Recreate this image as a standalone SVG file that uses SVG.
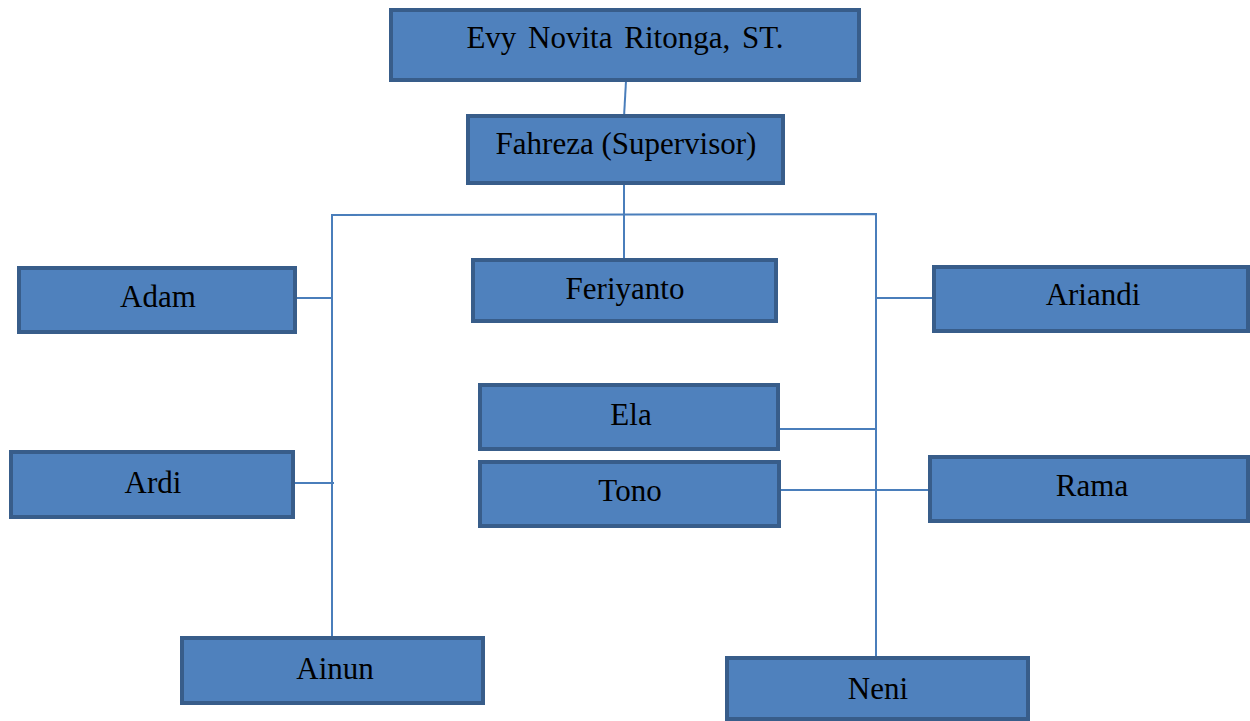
<svg xmlns="http://www.w3.org/2000/svg" width="1250" height="721" viewBox="0 0 1250 721">
<style>
.box{fill:#4f81bd;stroke:#385d8a;stroke-width:4}
.t{font-family:"Liberation Serif",serif;font-size:31px;fill:#000;text-anchor:middle}
.c{stroke:#4a7ebb;stroke-width:2;fill:none}
.cf{stroke:#3f6ea6;stroke-width:1;fill:none}
</style>
<rect width="1250" height="721" fill="#fff"/>
<g id="connectors">
<line class="c" x1="626" y1="81" x2="624" y2="117"/>
<line class="c" x1="624" y1="183" x2="624" y2="261"/>
<polyline class="c" points="332,638 332,215 876,214 876,658"/>
<line class="c" x1="296" y1="298" x2="332" y2="298"/>
<line class="cf" x1="205" y1="298" x2="296" y2="298"/>
<line class="c" x1="876" y1="298" x2="935" y2="298"/>
<line class="cf" x1="935" y1="298" x2="972" y2="298"/>
<line class="c" x1="294" y1="483" x2="334" y2="483"/>
<line class="cf" x1="210" y1="483" x2="294" y2="483"/>
<line class="c" x1="777" y1="429" x2="876" y2="429"/>
<line class="c" x1="780" y1="490" x2="931" y2="490"/>
</g>
<g id="evy"><rect class="box" x="391" y="10" width="468" height="70"/><text class="t" x="625" y="48" word-spacing="4">Evy Novita Ritonga, ST.</text></g>
<g id="fahreza"><rect class="box" x="468" y="116" width="315" height="67"/><text class="t" x="626" y="154">Fahreza (Supervisor)</text></g>
<g id="adam"><rect class="box" x="19" y="268" width="276" height="64"/><text class="t" x="158" y="307">Adam</text></g>
<g id="feriyanto"><rect class="box" x="473" y="260" width="303" height="61"/><text class="t" x="625" y="299">Feriyanto</text></g>
<g id="ariandi"><rect class="box" x="934" y="267" width="314" height="64"/><text class="t" x="1093" y="305">Ariandi</text></g>
<g id="ela"><rect class="box" x="480" y="385" width="298" height="64"/><text class="t" x="631" y="425">Ela</text></g>
<g id="tono"><rect class="box" x="480" y="462" width="299" height="64"/><text class="t" x="630" y="501">Tono</text></g>
<g id="rama"><rect class="box" x="930" y="457" width="318" height="64"/><text class="t" x="1092" y="496">Rama</text></g>
<g id="ardi"><rect class="box" x="11" y="452" width="282" height="65"/><text class="t" x="153" y="493">Ardi</text></g>
<g id="ainun"><rect class="box" x="182" y="638" width="301" height="65"/><text class="t" x="335" y="679">Ainun</text></g>
<g id="neni"><rect class="box" x="727" y="658" width="301" height="61"/><text class="t" x="878" y="699">Neni</text></g>
</svg>
